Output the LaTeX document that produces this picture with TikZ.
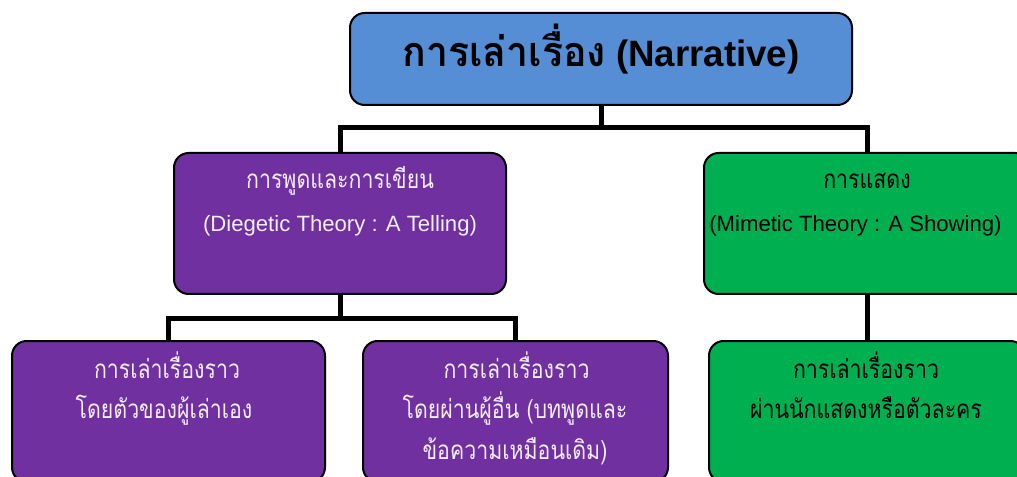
\documentclass[tikz,border=0pt]{standalone}
\usepackage{fontspec}
\setmainfont{Liberation Sans}
\newfontfamily\thai[Script=Thai, FakeStretch=0.82]{Loma}
\newfontfamily\thaitl[Script=Thai, FakeStretch=0.95]{Loma}
\definecolor{topblue}{HTML}{558ED5}
\definecolor{purp}{HTML}{7030A0}
\definecolor{grn}{HTML}{00B050}
\definecolor{lighttxt}{HTML}{F3EEF9}
\tikzset{
  box/.style={draw=black, line width=1.5pt, rounded corners=11pt, inner sep=0pt},
  conn/.style={draw=black, line width=3.75pt},
  thw/.style={text=lighttxt, font=\thai\fontsize{19.5}{22}\selectfont, inner sep=0pt, anchor=base},
  thb/.style={text=black, font=\thai\fontsize{19.5}{22}\selectfont, inner sep=0pt, anchor=base},
  law/.style={text=lighttxt, font=\fontsize{16.6}{19}\selectfont, inner sep=0pt, anchor=base},
  lab/.style={text=black, font=\fontsize{16.6}{19}\selectfont, inner sep=0pt, anchor=base},
}
\begin{document}
\begin{tikzpicture}[x=0.75pt,y=-0.75pt]
\useasboundingbox (0,0) rectangle (1017,477);
\clip (0,0) rectangle (1017,477);
% boxes
\node[box, fill=topblue, minimum width=376.5pt, minimum height=69pt] (top) at (601,59) {};
\node[box, fill=purp, minimum width=249pt, minimum height=105.75pt] (tell) at (340,223.5) {};
\node[box, fill=grn, minimum width=244.5pt, minimum height=105.75pt] (show) at (867,223.5) {};
\node[box, fill=purp, minimum width=234.75pt, minimum height=105.75pt] (self) at (168.5,411.5) {};
\node[box, fill=purp, minimum width=228.75pt, minimum height=105.75pt] (other) at (515.5,411.5) {};
\node[box, fill=grn, minimum width=237pt, minimum height=105.75pt] (actor) at (867,411.5) {};
% connectors
\coordinate (j1) at (601,128);
\coordinate (j2) at (340,318);
\draw[conn] (top.south) -- (j1);
\draw[conn] (j1) -| (tell.north);
\draw[conn] (j1) -| (show.north);
\draw[conn] (tell.south) -- (j2);
\draw[conn] (j2) -| (self.north);
\draw[conn] (j2) -| (other.north);
\draw[conn] (show.south) -- (actor.north);
% texts
\node[inner sep=0pt, anchor=base, font=\fontsize{27.5}{32}\bfseries] (ttl) at (601,67) {{\thaitl\fontsize{31}{34}\selectfont\bfseries การเล่าเรื่อง} (Narrative)};
\node[thw] (tell1) at (340,189) {การพูดและการเขียน};
\node[law] (tell2) at (340,232) {(Diegetic Theory : A Telling)};
\node[thb] (show1) at (867,189) {การแสดง};
\node[lab] (show2) at (855.5,232) {(Mimetic Theory : A Showing)};
\node[thw] (self1) at (167,378) {การเล่าเรื่องราว};
\node[thw] (self2) at (164,418) {โดยตัวของผู้เล่าเอง};
\node[thw] (other1) at (516.5,378) {การเล่าเรื่องราว};
\node[thw] (other2) at (515,418) {โดยผ่านผู้อื่น (บทพูดและ};
\node[thw] (other3) at (515,459) {ข้อความเหมือนเดิม)};
\node[thb] (actor1) at (866,378) {การเล่าเรื่องราว};
\node[thb] (actor2) at (866,418) {ผ่านนักแสดงหรือตัวละคร};
\end{tikzpicture}
\end{document}
